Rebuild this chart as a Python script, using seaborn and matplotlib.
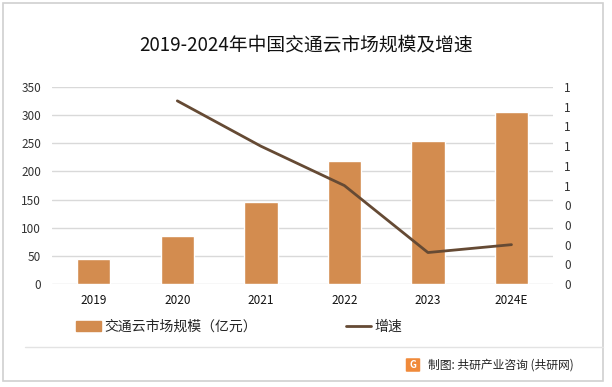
import pandas as pd
import matplotlib
matplotlib.use('agg')
import matplotlib.pyplot as plt
import seaborn as sns
from matplotlib.patches import Rectangle, FancyBboxPatch
from matplotlib.lines import Line2D
from matplotlib.ticker import FuncFormatter

years = ['2019', '2020', '2021', '2022', '2023', '2024E']
market_size = [44, 85, 146, 218, 254, 305]  # 亿元
growth = [None, 0.93, 0.70, 0.50, 0.16, 0.20]

bar_color = '#D38C4F'
line_color = '#654A34'
grid_color = '#D9D9D9'

df = pd.DataFrame({'year': years, 'size': market_size, 'growth': growth})

sns.set_theme(style="white")
plt.rcParams['font.family'] = ['Noto Sans CJK SC', 'DejaVu Sans']

fig = plt.figure(figsize=(6.12, 3.87), dpi=100)
ax = fig.add_axes([0.085, 0.266, 0.819, 0.509])

sns.barplot(data=df, x='year', y='size', color=bar_color, width=0.4,
            saturation=1, ax=ax, zorder=3)
ax.set_ylim(0, 350)
ax.set_yticks(range(0, 351, 50))
ax.yaxis.grid(True, color=grid_color, linewidth=1, zorder=0)
ax.set_axisbelow(True)
ax.set_xlabel('')
ax.set_ylabel('')
for s in ax.spines.values():
    s.set_visible(False)
ax.tick_params(axis='both', length=0, labelsize=8.5, colors='#333333')
ax.tick_params(axis='x', pad=7, colors='#111111')
ax.tick_params(axis='y', pad=8)

ax2 = ax.twinx()
line_df = df.dropna()
sns.lineplot(data=line_df, x='year', y='growth', color=line_color,
             linewidth=2, ax=ax2, zorder=4)
ax2.set_ylim(0, 1)
ax2.set_yticks([i / 10 for i in range(11)])
ax2.yaxis.set_major_formatter(FuncFormatter(lambda v, p: str(int(v + 0.5 + 1e-9))))
ax2.set_ylabel('')
ax2.set_xlabel('')
for s in ax2.spines.values():
    s.set_visible(False)
ax2.tick_params(axis='y', length=0, labelsize=8.5, colors='#333333', pad=8)
ax2.grid(False)
ax.set_xlim(-0.5, len(years) - 0.5)

fig.text(0.5, 0.885, '2019-2024年中国交通云市场规模及增速', ha='center', va='center',
         fontsize=13.5, color='#111111')

handles = [Rectangle((0, 0), 1, 1, color=bar_color),
           Line2D([0], [0], color=line_color, linewidth=2)]
fig.legend(handles, ['交通云市场规模（亿元）', '增速'], loc='center',
           bbox_to_anchor=(0.39, 0.155), ncol=2, frameon=False, fontsize=10,
           columnspacing=6.4, handlelength=1.8, handletextpad=0.25)

# outer frame and footer
fig.patches.append(Rectangle((3 / 612, 1 - 381 / 387), 600 / 612, 378 / 387,
                             transform=fig.transFigure, fill=False,
                             edgecolor='#D0D0D0', linewidth=1.2))
fig.lines.append(Line2D([25 / 612, 603 / 612], [1 - 347 / 387] * 2,
                        transform=fig.transFigure, color='#E3E3E3', linewidth=1))
fig.patches.append(FancyBboxPatch((407 / 612, 1 - 371 / 387), 12 / 612, 12 / 387,
                                  boxstyle='round,pad=0.002', transform=fig.transFigure,
                                  facecolor='#F08A3A', edgecolor='none'))
fig.text(413 / 612, 1 - 365 / 387, 'G', ha='center', va='center', fontsize=7,
         color='white', fontweight='bold')
fig.text(428 / 612, 1 - 365 / 387, '制图: 共研产业咨询 (共研网)', ha='left', va='center',
         fontsize=8.5, color='#222222')

plt.savefig('out.png', dpi=100)
